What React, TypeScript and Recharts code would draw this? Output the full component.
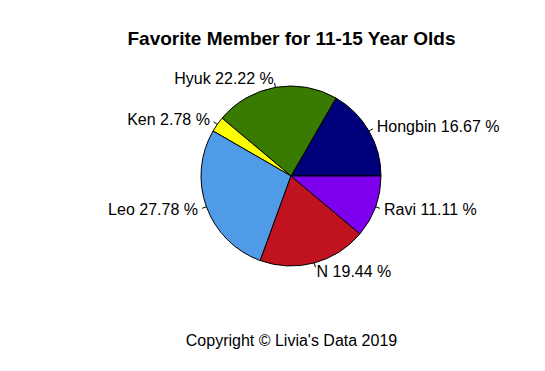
import { PieChart, Pie, Cell } from 'recharts'

const members = ['Hongbin', 'Hyuk', 'Ken', 'Leo', 'N', 'Ravi']
const votes = [6, 8, 1, 10, 7, 4]
const colors = ['#00007a', '#397a00', '#ffff00', '#4f9be8', '#c0131f', '#7f00ee']

const data = members.map((name, i) => ({ name, value: votes[i] }))

const RADIAN = Math.PI / 180
const font = '"Liberation Sans", Arial, sans-serif'

function renderLabel(props: any) {
  const { cx, cy, midAngle, outerRadius, name, percent } = props
  const c = Math.cos(-midAngle * RADIAN)
  const s = Math.sin(-midAngle * RADIAN)
  const x1 = cx + outerRadius * c
  const y1 = cy + outerRadius * s
  const x2 = cx + outerRadius * 1.05 * c
  const y2 = cy + outerRadius * 1.05 * s
  const tx = cx + outerRadius * 1.1 * c
  const ty = cy + outerRadius * 1.1 * s
  return (
    <g>
      <line x1={x1} y1={y1} x2={x2} y2={y2} stroke="#000" strokeWidth={1} />
      <text
        x={tx}
        y={ty}
        fill="#000"
        fontSize={16}
        fontFamily={font}
        textAnchor={c >= 0 ? 'start' : 'end'}
        dominantBaseline="central"
      >
        {`${name} ${(percent * 100).toFixed(2)} %`}
      </text>
    </g>
  )
}

export default function App() {
  return (
    <div style={{ position: 'absolute', left: 0, top: 0, width: 545, height: 371, background: '#fff' }}>
      <div
        style={{
          position: 'absolute',
          left: 0,
          width: 583,
          top: 28,
          textAlign: 'center',
          fontFamily: font,
          fontWeight: 'bold',
          fontSize: 19,
          color: '#000',
        }}
      >
        Favorite Member for 11-15 Year Olds
      </div>
      <PieChart width={545} height={371} margin={{ top: 0, right: 0, bottom: 0, left: 0 }}>
        <Pie
          data={data}
          dataKey="value"
          nameKey="name"
          cx={291}
          cy={176}
          outerRadius={90}
          startAngle={0}
          endAngle={360}
          stroke="#000"
          strokeWidth={1}
          label={renderLabel}
          labelLine={false}
          isAnimationActive={false}
        >
          {data.map((d, i) => (
            <Cell key={d.name} fill={colors[i]} />
          ))}
        </Pie>
      </PieChart>
      <div
        style={{
          position: 'absolute',
          left: 0,
          width: 583,
          top: 332,
          textAlign: 'center',
          fontFamily: font,
          fontSize: 16,
          color: '#000',
        }}
      >
        Copyright © Livia's Data 2019
      </div>
    </div>
  )
}
